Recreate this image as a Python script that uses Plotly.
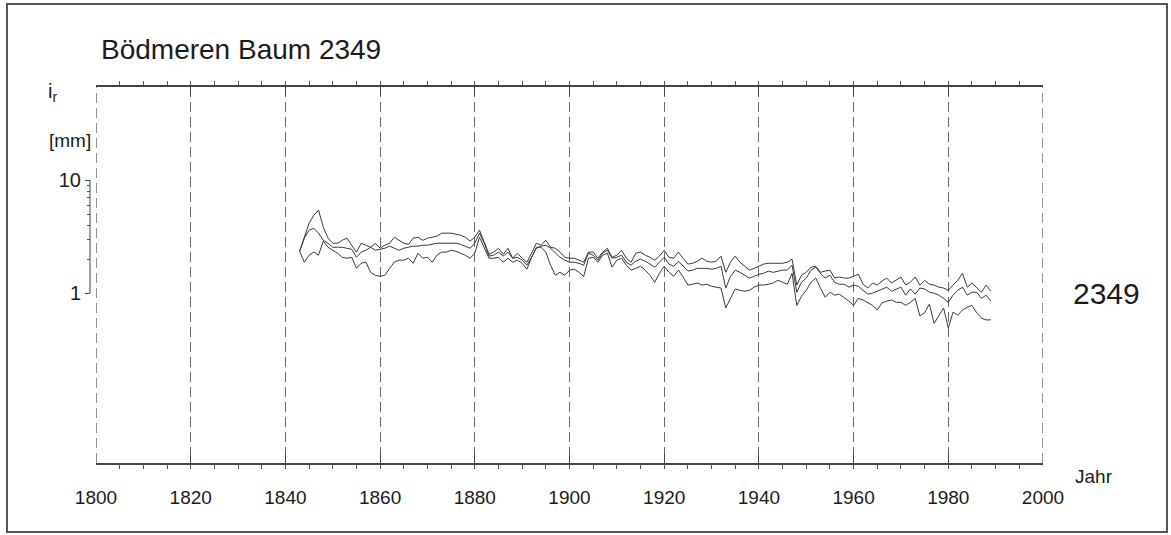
import plotly.graph_objects as go

# ---------------- data (ring width i_r in mm) ----------------
first_year = 1843

upper = [
    2.35, 3.07, 4.16, 4.90, 5.43, 3.84, 3.07,
    2.77, 2.77, 2.94, 3.07, 2.66, 2.31, 2.77, 2.66, 2.55, 2.77,
    2.50, 2.66, 2.77, 3.13, 2.94, 2.77, 2.71, 3.07, 3.13, 2.94,
    3.07, 3.13, 3.19, 3.40, 3.40, 3.40, 3.33, 3.26, 3.13, 2.89,
    3.13, 3.61, 2.83, 2.21, 2.31, 2.50, 2.21, 2.50, 2.04, 2.26,
    2.04, 1.88, 2.26, 2.77, 2.66, 2.94, 2.55, 2.50, 2.31, 2.08,
    2.04, 2.04, 1.96, 1.88, 2.31, 2.31, 2.04, 2.31, 2.50, 2.08,
    2.17, 2.40, 2.04, 1.88, 2.26, 2.31, 2.17, 2.08, 1.96, 2.13,
    2.40, 2.08, 2.04, 2.31, 2.04, 1.81, 1.84, 1.92, 2.04, 1.92,
    1.88, 1.92, 2.13, 1.53, 1.88, 2.13, 1.88, 1.73, 1.60, 1.66,
    1.73, 1.81, 1.84, 1.84, 1.84, 1.84, 1.88, 2.00, 1.18, 1.44,
    1.53, 1.70, 1.73, 1.53, 1.57, 1.60, 1.36, 1.39, 1.36, 1.36,
    1.41, 1.47, 1.20, 1.11, 1.23, 1.18, 1.28, 1.36, 1.23, 1.30,
    1.39, 1.18, 1.25, 1.39, 1.18, 1.30, 1.20, 1.18, 1.13, 1.11,
    1.06, 1.18, 1.30, 1.50, 1.13, 1.23, 1.11, 1.02, 1.18, 1.04,
]

middle = [
    2.35, 3.07, 3.61, 3.76, 3.40, 2.94, 2.77,
    2.55, 2.55, 2.55, 2.50, 2.45, 2.08, 2.31, 2.40, 2.55, 2.40,
    2.45, 2.50, 2.61, 2.50, 2.40, 2.50, 2.55, 2.61, 2.61, 2.66,
    2.66, 2.71, 2.77, 2.77, 2.77, 2.77, 2.77, 2.71, 2.61, 2.50,
    2.77, 3.40, 2.77, 2.13, 2.17, 2.31, 2.13, 2.31, 2.04, 2.08,
    1.96, 1.77, 2.08, 2.50, 2.61, 2.66, 2.50, 2.26, 2.08, 1.96,
    1.88, 1.88, 1.84, 1.77, 2.26, 2.17, 1.96, 2.26, 2.40, 2.04,
    2.08, 2.17, 1.88, 1.77, 1.92, 2.00, 1.92, 1.81, 1.70, 1.88,
    2.08, 1.81, 1.73, 1.92, 1.73, 1.57, 1.60, 1.66, 1.66, 1.66,
    1.63, 1.66, 1.73, 1.11, 1.41, 1.60, 1.53, 1.44, 1.36, 1.41,
    1.47, 1.50, 1.57, 1.53, 1.57, 1.60, 1.60, 1.77, 1.02, 1.25,
    1.36, 1.60, 1.70, 1.50, 1.36, 1.44, 1.25, 1.20, 1.20, 1.13,
    1.18, 1.15, 1.06, 0.98, 1.00, 1.04, 1.09, 1.13, 1.04, 1.09,
    1.13, 0.96, 1.09, 0.98, 1.11, 1.09, 1.02, 1.00, 0.96, 0.90,
    0.83, 0.96, 1.06, 1.13, 0.96, 1.02, 1.02, 0.90, 0.96, 0.85,
]

lower = [
    2.35, 1.88, 2.17, 2.31, 2.17, 2.89, 2.55,
    2.40, 2.26, 2.08, 2.04, 2.08, 1.66, 1.84, 1.88, 1.53, 1.44,
    1.41, 1.44, 1.66, 1.88, 1.96, 1.96, 2.04, 1.84, 2.26, 2.04,
    2.08, 1.88, 2.17, 2.31, 2.31, 2.40, 2.35, 2.26, 2.17, 2.04,
    2.26, 3.13, 2.55, 2.04, 2.04, 2.08, 1.88, 2.04, 1.88, 1.96,
    1.84, 1.63, 2.08, 2.55, 2.55, 2.31, 1.77, 1.44, 1.53, 1.44,
    1.60, 1.63, 1.53, 1.41, 2.04, 2.08, 1.88, 2.17, 2.26, 1.70,
    1.96, 2.04, 1.77, 1.60, 1.66, 1.73, 1.60, 1.44, 1.25, 1.50,
    1.73, 1.53, 1.41, 1.60, 1.39, 1.18, 1.20, 1.23, 1.18, 1.20,
    1.15, 1.13, 1.11, 0.74, 0.90, 1.09, 1.06, 1.04, 1.06, 1.13,
    1.18, 1.18, 1.20, 1.23, 1.30, 1.25, 1.20, 1.50, 0.78, 0.94,
    1.06, 1.25, 1.36, 1.11, 0.92, 1.02, 0.96, 0.98, 0.92, 0.85,
    0.78, 0.90, 0.87, 0.82, 0.78, 0.71, 0.82, 0.85, 0.87, 0.83,
    0.83, 0.78, 0.83, 0.90, 0.63, 0.67, 0.80, 0.54, 0.64, 0.74,
    0.49, 0.68, 0.64, 0.71, 0.75, 0.78, 0.67, 0.60, 0.58, 0.58,
]

years = list(range(first_year, first_year + len(middle)))

x_ticks = [1800, 1820, 1840, 1860, 1880, 1900, 1920, 1940, 1960, 1980, 2000]
y_ticks = [1, 10]
y_tick_text = ["1", "10"]
y_minor_ticks = [2, 3, 4, 5, 6, 7, 8, 9]

title_text = "Bödmeren Baum 2349"
series_label = "2349"
x_title = "Jahr"
y_title_1 = "i<sub>r</sub>"
y_title_2 = "[mm]"

# ---------------- figure ----------------
FONT = "Liberation Sans, Arial, Helvetica, sans-serif"
INK = "#1c1c1c"
LINE = "#3a3a3a"
GRID = "#6a6a6a"
GRID_DASH = "10px,5px"

W, H = 1171, 535
ML, MR, MT, MB = 90, 128, 87, 72
PW = W - ML - MR
PH = H - MT - MB


def px_x(px):
    return (px - ML) / PW


def px_y(py):
    return (H - MB - py) / PH


fig = go.Figure()
for s in (upper, middle, lower):
    fig.add_trace(go.Scatter(
        x=years, y=s, mode="lines",
        line=dict(color=LINE, width=1),
        showlegend=False, hoverinfo="skip",
    ))

fig.update_layout(
    width=W, height=H,
    margin=dict(l=ML, r=MR, t=MT, b=MB, pad=0),
    paper_bgcolor="white", plot_bgcolor="white",
    font=dict(family=FONT, color=INK),
    showlegend=False,
)

fig.update_xaxes(
    range=[x_ticks[0], x_ticks[-1]],
    domain=[px_x(96), 1],
    tickmode="array", tickvals=x_ticks,
    showgrid=True, gridcolor=GRID, gridwidth=1, griddash=GRID_DASH,
    zeroline=False,
    showline=True, linecolor="#454545", linewidth=1.5, mirror="allticks",
    ticks="inside", ticklen=9, tickwidth=1, tickcolor="#454545",
    tickfont=dict(size=19, color=INK, family=FONT),
    ticklabelstandoff=16,
    minor=dict(dtick=5, tick0=1800, ticks="outside", ticklen=4,
               tickcolor="#555555", tickwidth=1, showgrid=False),
)

fig.update_yaxes(
    type="log",
    range=[-1.504, 1.826],
    anchor="free", position=0,
    showgrid=False, zeroline=False, showline=False,
    tickmode="array", tickvals=y_ticks, ticktext=y_tick_text,
    ticks="outside", ticklen=5, tickwidth=1, tickcolor="#454545",
    tickfont=dict(size=20, color=INK, family=FONT),
    minor=dict(tickmode="array", tickvals=y_minor_ticks, ticks="outside",
               ticklen=3, tickwidth=1, tickcolor="#555555", showgrid=False),
)

# dashed grid lines at the two ends of the year axis (plotly omits edge grid lines)
for xv in (x_ticks[0], x_ticks[-1]):
    fig.add_shape(type="line", xref="x", yref="paper",
                  x0=xv, x1=xv, y0=0, y1=1, layer="below",
                  line=dict(color="#2a2a2a", width=1, dash=GRID_DASH))

# y-axis bracket line between 1 and 10
fig.add_shape(type="line", xref="paper", yref="y",
              x0=0, x1=0, y0=y_ticks[0], y1=y_ticks[-1],
              line=dict(color="#454545", width=1))

# outer frame
fig.add_shape(type="rect", xref="paper", yref="paper",
              x0=px_x(7), x1=px_x(1167), y0=px_y(532), y1=px_y(4),
              line=dict(color="#555555", width=2), layer="below")

ann = [
    dict(text=title_text, x=px_x(99), y=px_y(49), xanchor="left",
         yanchor="middle", font=dict(size=28)),
    dict(text=y_title_1, x=px_x(46), y=px_y(92), xanchor="left",
         yanchor="middle", font=dict(size=20)),
    dict(text=y_title_2, x=px_x(93), y=px_y(140), xanchor="right",
         yanchor="middle", font=dict(size=19)),
    dict(text=x_title, x=px_x(1073), y=px_y(476), xanchor="left",
         yanchor="middle", font=dict(size=19)),
    dict(text=series_label, x=px_x(1071), y=px_y(293), xanchor="left",
         yanchor="middle", font=dict(size=30)),
]
for a in ann:
    a.update(xref="paper", yref="paper", showarrow=False)
    a["font"].update(family=FONT, color=INK)
    fig.add_annotation(**a)

fig.write_html("out.html",
               config={"displayModeBar": False},
               post_script="document.body.style.margin='0';")
